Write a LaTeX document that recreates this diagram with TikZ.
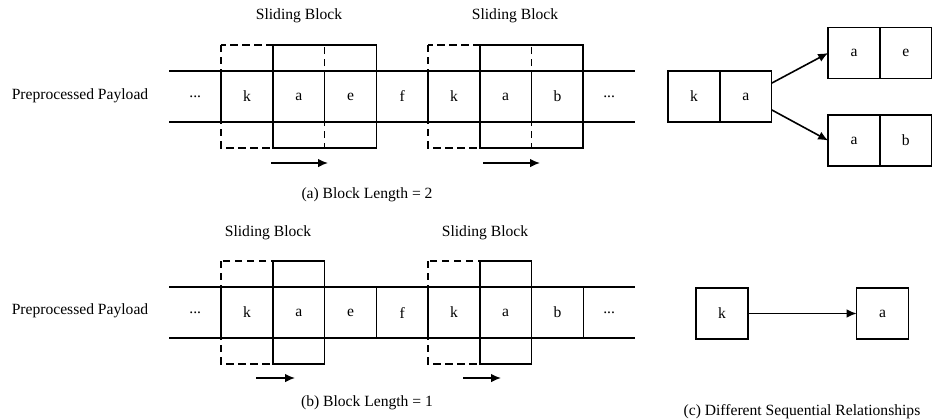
\documentclass[tikz,border=0pt]{standalone}
\usepackage{fontspec}
\setmainfont{Liberation Serif}
\usepackage{tikz}
\usetikzlibrary{positioning, arrows.meta}

\begin{document}
\begin{tikzpicture}[x=0.75pt, y=-0.75pt,
    font=\fontsize{11.7}{14}\selectfont,
    cell/.style={draw, line width=1.1pt,
        minimum width=38.8pt, minimum height=38.5pt,
        inner sep=0pt, outer sep=0pt},
    gap/.style={cell, draw=none},
    newblock/.style={line width=1.2pt},
    oldblock/.style={line width=1.2pt, dash pattern=on 5.5pt off 3.5pt},
    >={Latex[length=7.5pt,width=6.5pt]}]
    \useasboundingbox (0,0) rectangle (932,419);

    % (a) block length 2
    \node (pa) at (80,96) {Preprocessed Payload};
    \node[cell] (ka1) at (247,96.5) {k};
    \node[cell, right=0pt of ka1] (aa1) {a};
    \node[cell, right=0pt of aa1] (ea1) {e};
    \node[cell, right=0pt of ea1] (fa1) {f};
    \node[cell, right=0pt of fa1] (ka2) {k};
    \node[cell, right=0pt of ka2] (aa2) {a};
    \node[cell, right=0pt of aa2] (ba2) {b};
    \node[gap, left=0pt of ka1] (la) {...};
    \node[gap, right=0pt of ba2] (ra) {...};
    \draw[line width=1.1pt] (la.north west) -- (ra.north east);
    \draw[line width=1.1pt] (la.south west) -- (ra.south east);

    \draw[oldblock] ([yshift=19.3pt]ka1.north west) rectangle ([yshift=-19.3pt]aa1.south east);
    \draw[newblock] ([yshift=19.3pt]aa1.north west) rectangle ([yshift=-19.3pt]ea1.south east);
    \draw[oldblock] ([yshift=19.3pt]ka2.north west) rectangle ([yshift=-19.3pt]aa2.south east);
    \draw[newblock] ([yshift=19.3pt]aa2.north west) rectangle ([yshift=-19.3pt]ba2.south east);

    \node (sba1) at (299,16) {Sliding Block};
    \node (sba2) at (515,16) {Sliding Block};

    \coordinate (ma1s) at (271,163);
    \coordinate (ma1e) at (328,163);
    \coordinate (ma2s) at (483,163);
    \coordinate (ma2e) at (540,163);
    \draw[->, line width=1.2pt] (ma1s) -- (ma1e);
    \draw[->, line width=1.2pt] (ma2s) -- (ma2e);

    \node (capa) at (367,195) {(a) Block Length = 2};

    % (b) block length 1
    \node (pb) at (80,311) {Preprocessed Payload};
    \node[cell] (kb1) at (247,312.5) {k};
    \node[cell, right=0pt of kb1] (ab1) {a};
    \node[cell, right=0pt of ab1] (eb1) {e};
    \node[cell, right=0pt of eb1] (fb1) {f};
    \node[cell, right=0pt of fb1] (kb2) {k};
    \node[cell, right=0pt of kb2] (ab2) {a};
    \node[cell, right=0pt of ab2] (bb2) {b};
    \node[gap, left=0pt of kb1] (lb) {...};
    \node[gap, right=0pt of bb2] (rb) {...};
    \draw[line width=1.1pt] (lb.north west) -- (rb.north east);
    \draw[line width=1.1pt] (lb.south west) -- (rb.south east);

    \draw[oldblock] ([yshift=19.3pt]kb1.north west) rectangle ([yshift=-19.3pt]kb1.south east);
    \draw[newblock] ([yshift=19.3pt]ab1.north west) rectangle ([yshift=-19.3pt]ab1.south east);
    \draw[oldblock] ([yshift=19.3pt]kb2.north west) rectangle ([yshift=-19.3pt]kb2.south east);
    \draw[newblock] ([yshift=19.3pt]ab2.north west) rectangle ([yshift=-19.3pt]ab2.south east);

    \node (sbb1) at (268,233) {Sliding Block};
    \node (sbb2) at (485,233) {Sliding Block};

    \coordinate (mb1s) at (256,378);
    \coordinate (mb1e) at (295,378);
    \coordinate (mb2s) at (463,378);
    \coordinate (mb2e) at (501,378);
    \draw[->, line width=1.2pt] (mb1s) -- (mb1e);
    \draw[->, line width=1.2pt] (mb2s) -- (mb2e);

    \node (capb) at (367,403) {(b) Block Length = 1};

    % (c) relationships
    \node[cell] (kc1) at (694,96.5) {k};
    \node[cell, right=0pt of kc1] (ac1) {a};
    \node[cell] (ac2) at (854,53) {a};
    \node[cell, right=0pt of ac2] (ec2) {e};
    \node[cell] (ac3) at (854,140.5) {a};
    \node[cell, right=0pt of ac3] (bc3) {b};
    \draw[->, line width=1.2pt] ([yshift=10pt]ac1.east) -- (ac2.west);
    \draw[->, line width=1.2pt] ([yshift=-10pt]ac1.east) -- (ac3.west);

    \node[cell] (kc4) at (722,313.5) {k};
    \node[cell] (ac5) at (882.5,313.5) {a};
    \draw[->, line width=1.2pt] (kc4) -- (ac5);

    \node (capc) at (802,412) {(c) Different Sequential Relationships};
\end{tikzpicture}
\end{document}
